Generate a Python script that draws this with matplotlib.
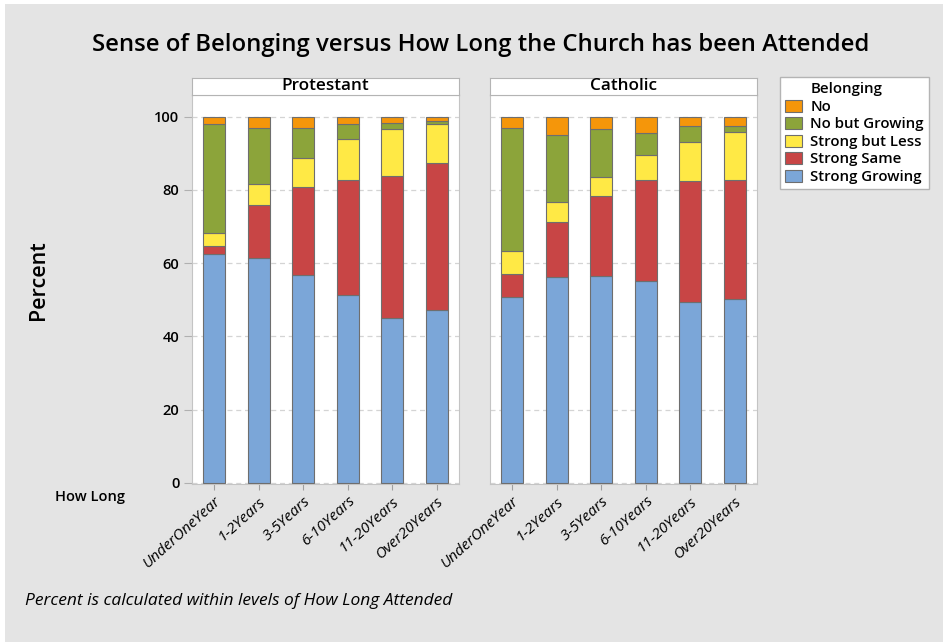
import numpy as np
import matplotlib
matplotlib.use("Agg")
import matplotlib.pyplot as plt
import matplotlib.patches as mpatches

plt.rcParams['font.family'] = ['Open Sans', 'DejaVu Sans']

categories = ['UnderOneYear', '1-2Years', '3-5Years', '6-10Years', '11-20Years', 'Over20Years']
panels = ['Protestant', 'Catholic']
series_names = ['Strong Growing', 'Strong Same', 'Strong but Less', 'No but Growing', 'No']

# percent within each how-long level, bottom segment first
prot_strong_growing = [62.5, 61.4, 56.7, 51.3, 44.9, 47.2]
prot_strong_same = [2.3, 14.5, 24.0, 31.5, 38.9, 40.1]
prot_strong_less = [3.3, 5.8, 8.0, 11.2, 12.8, 10.6]
prot_no_growing = [29.8, 15.1, 8.2, 4.0, 1.6, 1.0]
prot_no = [2.1, 3.2, 3.1, 2.0, 1.8, 1.1]

cath_strong_growing = [50.7, 56.2, 56.6, 55.0, 49.5, 50.1]
cath_strong_same = [6.3, 15.0, 21.8, 27.6, 33.0, 32.7]
cath_strong_less = [6.2, 5.6, 5.1, 6.8, 10.7, 12.9]
cath_no_growing = [33.6, 18.1, 13.1, 6.1, 4.2, 1.7]
cath_no = [3.2, 5.1, 3.4, 4.5, 2.6, 2.6]

colors = ['#7ba6d8', '#c84545', '#ffe945', '#8ca43a', '#f5960a']

panel_data = {
    'Protestant': [prot_strong_growing, prot_strong_same, prot_strong_less, prot_no_growing, prot_no],
    'Catholic': [cath_strong_growing, cath_strong_same, cath_strong_less, cath_no_growing, cath_no],
}

W, H = 943, 642
fig = plt.figure(figsize=(W / 100, H / 100), dpi=100, facecolor='white')
fig.patches.append(mpatches.Rectangle((5 / W, 0), 1, 1 - 4 / H, transform=fig.transFigure,
                                      facecolor='#e4e4e4', edgecolor='none', zorder=-10))

def px(x0, y0, x1, y1):
    return [x0 / W, 1 - y1 / H, (x1 - x0) / W, (y1 - y0) / H]

lefts = [192, 490]
x = np.arange(len(categories))
for i, name in enumerate(panels):
    l = lefts[i]
    ax = fig.add_axes(px(l, 95, l + 267, 484))
    ax.set_facecolor('white')
    bottom = np.zeros(len(categories))
    for vals, c in zip(panel_data[name], colors):
        ax.bar(x, vals, 0.5, bottom=bottom, color=c, edgecolor='#6e6e6e', linewidth=0.8, zorder=3)
        bottom += np.array(vals)
    ax.set_xlim(-0.5, 5.5)
    ax.set_ylim(-0.3, 105.9)
    ax.set_yticks([0, 20, 40, 60, 80, 100])
    ax.grid(axis='y', linestyle=(0, (4, 3)), color='#d4d4d4', linewidth=0.9, zorder=0)
    for s in ax.spines.values():
        s.set_color('#c4c4c4')
    ax.set_xticks(x)
    ax.set_xticklabels(categories, rotation=42, ha='right', rotation_mode='anchor',
                       fontstyle='italic', fontsize=11)
    ax.tick_params(axis='x', length=4, color='#a0a0a0', pad=3)
    if i == 0:
        ax.tick_params(axis='y', length=6, color='#b0b0b0', labelsize=10.5, pad=3)
        for t in ax.get_yticklabels():
            t.set_fontweight('semibold')
    else:
        ax.tick_params(axis='y', length=0, labelleft=False)
    # strip header
    sax = fig.add_axes(px(l, 77.5, l + 267, 95))
    sax.set_xticks([])
    sax.set_yticks([])
    sax.set_facecolor('white')
    for s in sax.spines.values():
        s.set_color('#b4b4b4')
    sax.text(0.5, 0.5, name, ha='center', va='center', fontsize=12.3, fontweight='semibold',
             transform=sax.transAxes)

fig.text(481 / W, 1 - 45 / H, 'Sense of Belonging versus How Long the Church has been Attended',
         ha='center', va='center', fontsize=17.2, fontweight='semibold')
fig.text(38 / W, 1 - 280 / H, 'Percent', rotation=90, ha='center', va='center',
         fontsize=15.5, fontweight='semibold')
fig.text(55 / W, 1 - 497 / H, 'How Long', ha='left', va='center', fontsize=10.5, fontweight='semibold')
fig.text(25 / W, 1 - 601 / H, 'Percent is calculated within levels of How Long Attended',
         ha='left', va='center', fontsize=12.5, fontstyle='italic')

handles = [mpatches.Patch(facecolor='none', edgecolor='none', label='Belonging')]
for nm, c in list(zip(series_names, colors))[::-1]:
    handles.append(mpatches.Patch(facecolor=c, edgecolor='#6e6e6e', linewidth=0.8, label=nm))
leg = fig.legend(handles=handles, loc='upper left', bbox_to_anchor=(780 / W, 1 - 77 / H),
                 frameon=True, fancybox=False, edgecolor='#b4b4b4', framealpha=1,
                 borderaxespad=0, fontsize=10.8, handlelength=1.13, handleheight=0.85,
                 handletextpad=0.55, labelspacing=0.22, borderpad=0.35)
for t in leg.get_texts():
    t.set_fontweight('semibold')

fig.savefig('out.png', dpi=100, facecolor=fig.get_facecolor())
